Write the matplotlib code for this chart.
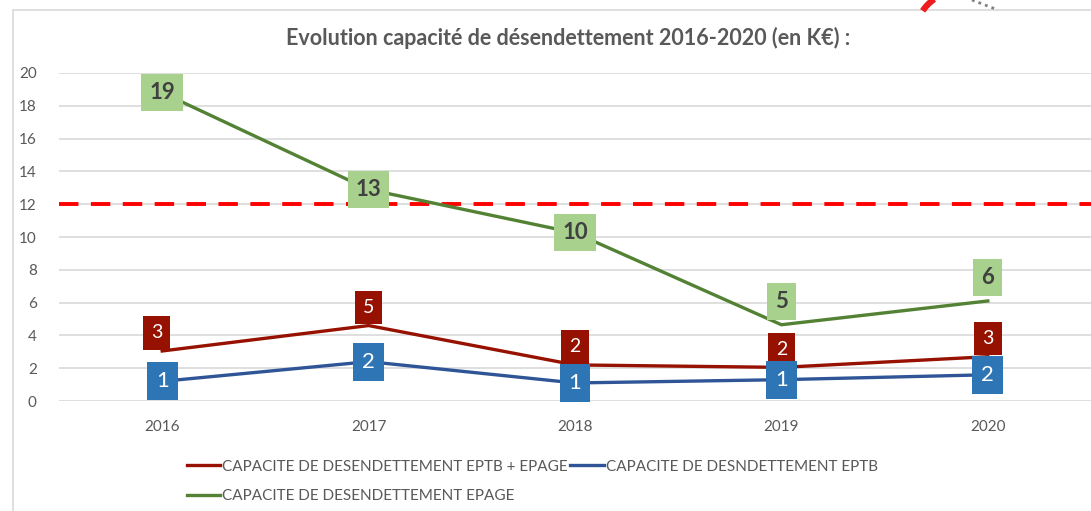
import matplotlib.pyplot as plt
from matplotlib.lines import Line2D
from matplotlib.patches import Arc, Rectangle

plt.rcParams["font.family"] = ["Lato", "DejaVu Sans"]

years = ["2016", "2017", "2018", "2019", "2020"]
eptb_epage = [3.05, 4.6, 2.2, 2.05, 2.7]
eptb = [1.2, 2.4, 1.1, 1.3, 1.6]
epage = [18.8, 12.9, 10.25, 4.65, 6.1]
seuil = 12

RED = "#961100"
BLUE = "#2F5597"
GREEN = "#548235"
GRAY = "#595959"

fig = plt.figure(figsize=(10.91, 5.11), dpi=100)
ax = fig.add_axes([59 / 1091, 1 - 401 / 511, 1 - 59 / 1091, (401 - 73) / 511])

x = list(range(len(years)))

ax.axhline(seuil, color="#FF0000", lw=2.8, dashes=(5, 3.2), zorder=2)
ax.plot(x, eptb_epage, color=RED, lw=2.4, zorder=3)
ax.plot(x, eptb, color=BLUE, lw=2.4, zorder=3)
ax.plot(x, epage, color=GREEN, lw=2.4, zorder=3)

# étiquettes de données
for i, v in enumerate(epage):
    dy = 0 if i < 3 else 17
    ax.annotate(f"{v:.0f}", (i, v), xytext=(0, dy), textcoords="offset points",
                ha="center", va="center", fontsize=16, fontweight="bold",
                color="#404040", zorder=5,
                bbox=dict(boxstyle="square,pad=0.36", fc="#A9D18E", ec="none"))
for i, v in enumerate(eptb_epage):
    dx = -4 if i == 0 else 0
    ax.annotate(f"{v:.0f}", (i, v), xytext=(dx, 13), textcoords="offset points",
                ha="center", va="center", fontsize=14, color="white", zorder=5,
                bbox=dict(boxstyle="square,pad=0.42", fc=RED, ec="none"))
for i, v in enumerate(eptb):
    ax.annotate(f"{v:.0f}", (i, v), xytext=(0, 0), textcoords="offset points",
                ha="center", va="center", fontsize=16, color="white", zorder=5,
                bbox=dict(boxstyle="square,pad=0.4", fc="#2E75B6", ec="none"))

ax.set_xlim(-0.5, len(years) - 0.5)
ax.set_ylim(0, 20)
ax.set_yticks(range(0, 21, 2))
ax.set_xticks(x)
ax.set_xticklabels(years)
ax.grid(axis="y", color="#D9D9D9", lw=1.2, zorder=0)
for s in ax.spines.values():
    s.set_visible(False)
ax.tick_params(length=0, colors=GRAY, labelsize=11)
ax.tick_params(axis="y", pad=16)
ax.tick_params(axis="x", pad=14)

fig.text(568 / 1091, 1 - 38 / 511, "Evolution capacité de désendettement 2016-2020 (en K€) :",
         ha="center", va="center", fontsize=15.5, fontweight="bold", color=GRAY)

handles = [
    Line2D([], [], color=RED, lw=2.4),
    Line2D([], [], color=GREEN, lw=2.4),
    Line2D([], [], color=BLUE, lw=2.4),
]
labels = [
    "CAPACITE DE DESENDETTEMENT EPTB + EPAGE",
    "CAPACITE DE DESENDETTEMENT EPAGE",
    "CAPACITE DE DESNDETTEMENT EPTB",
]
leg = fig.legend(handles, labels, ncol=2, loc="upper left",
                 bbox_to_anchor=(179 / 1091, 1 - 452 / 511), frameon=False,
                 fontsize=11, handlelength=2.2, handletextpad=0.1,
                 columnspacing=0.2, labelspacing=1.0, borderpad=0)
for t in leg.get_texts():
    t.set_color(GRAY)

# cadre du graphique
fig.patches.append(Rectangle((13 / 1091, -0.1), 2, 1.1 - 10 / 511,
                             transform=fig.transFigure, fill=False,
                             ec="#D9D9D9", lw=1.2))
# formes coupées en haut à droite
fig.patches.append(Arc((960, 475), 90, 90, theta1=125, theta2=146,
                       transform=None, color="#EE1C1C", lw=4.5))
fig.lines.append(Line2D([972, 998], [511, 501], transform=None,
                        color="#808080", lw=2, ls=(0, (1, 1.5))))

fig.savefig("out.png", dpi=100)
